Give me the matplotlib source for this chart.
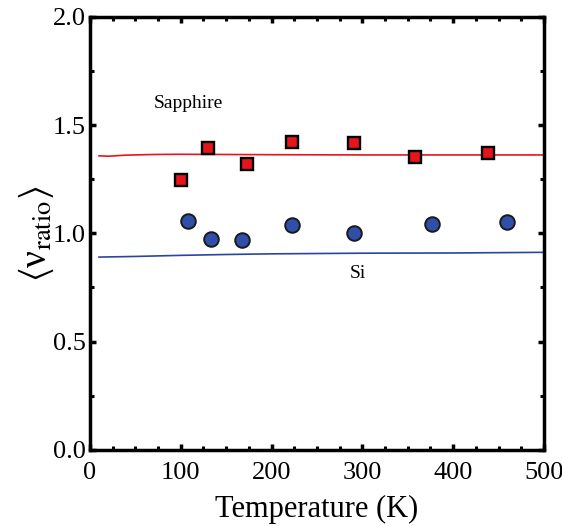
import matplotlib
matplotlib.use("Agg")
import matplotlib.pyplot as plt
from matplotlib.ticker import MultipleLocator, FormatStrFormatter

plt.rcParams['font.family'] = ['Liberation Serif', 'DejaVu Serif']
plt.rcParams['mathtext.fontset'] = 'stix'

# Data
sapphire_T = [100, 130, 173, 222, 291, 358, 438]
sapphire_v = [1.245, 1.395, 1.321, 1.423, 1.416, 1.353, 1.372]
si_T = [108, 133, 168, 222, 291, 377, 459]
si_v = [1.056, 0.975, 0.970, 1.038, 1.002, 1.044, 1.054]

sap_line_T = [10, 20, 40, 70, 100, 150, 200, 300, 400, 500]
sap_line_v = [1.358, 1.356, 1.361, 1.364, 1.365, 1.364, 1.363, 1.362, 1.362, 1.362]
si_line_T = [10, 50, 100, 150, 200, 300, 400, 500]
si_line_v = [0.890, 0.893, 0.898, 0.902, 0.905, 0.908, 0.909, 0.912]

fig = plt.figure(figsize=(5.62, 5.26), dpi=100)
ax = fig.add_axes([0.160, 0.145, 0.808, 0.823])

ax.plot(sap_line_T, sap_line_v, color='#e8141c', lw=1.2, zorder=2)
ax.plot(si_line_T, si_line_v, color='#2846a0', lw=1.2, zorder=2)
ax.plot(sapphire_T, sapphire_v, 's', ms=9, mfc='#e8141c', mec='black', mew=1.7, zorder=3)
ax.plot(si_T, si_v, 'o', ms=10.5, mfc='#2f4fa8', mec='#1a1a1a', mew=1.4, zorder=3)

ax.text(70, 1.60, 'Sapphire', fontsize=14, va='center', ha='left')
ax.text(286, 0.815, 'Si', fontsize=14, va='center', ha='left')

ax.set_xlim(0, 500)
ax.set_ylim(0, 2.0)
ax.xaxis.set_major_locator(MultipleLocator(100))
ax.xaxis.set_minor_locator(MultipleLocator(25))
ax.yaxis.set_major_locator(MultipleLocator(0.5))
ax.yaxis.set_minor_locator(MultipleLocator(0.25))
ax.yaxis.set_major_formatter(FormatStrFormatter('%.1f'))

ax.tick_params(which='both', direction='in', top=True, right=True, labelsize=19)
ax.tick_params(axis='x', pad=9)
ax.tick_params(axis='y', pad=3)
ax.tick_params(which='major', length=4, width=2.5)
ax.tick_params(which='minor', length=3, width=2.2)
for s in ax.spines.values():
    s.set_linewidth(2.5)

ax.set_xlabel('Temperature (K)', fontsize=22, labelpad=8)
ax.set_ylabel(r'$\langle$ν$_{\mathrm{ratio}}\rangle$', fontsize=27, labelpad=-2)

fig.savefig('out.png', dpi=100)
